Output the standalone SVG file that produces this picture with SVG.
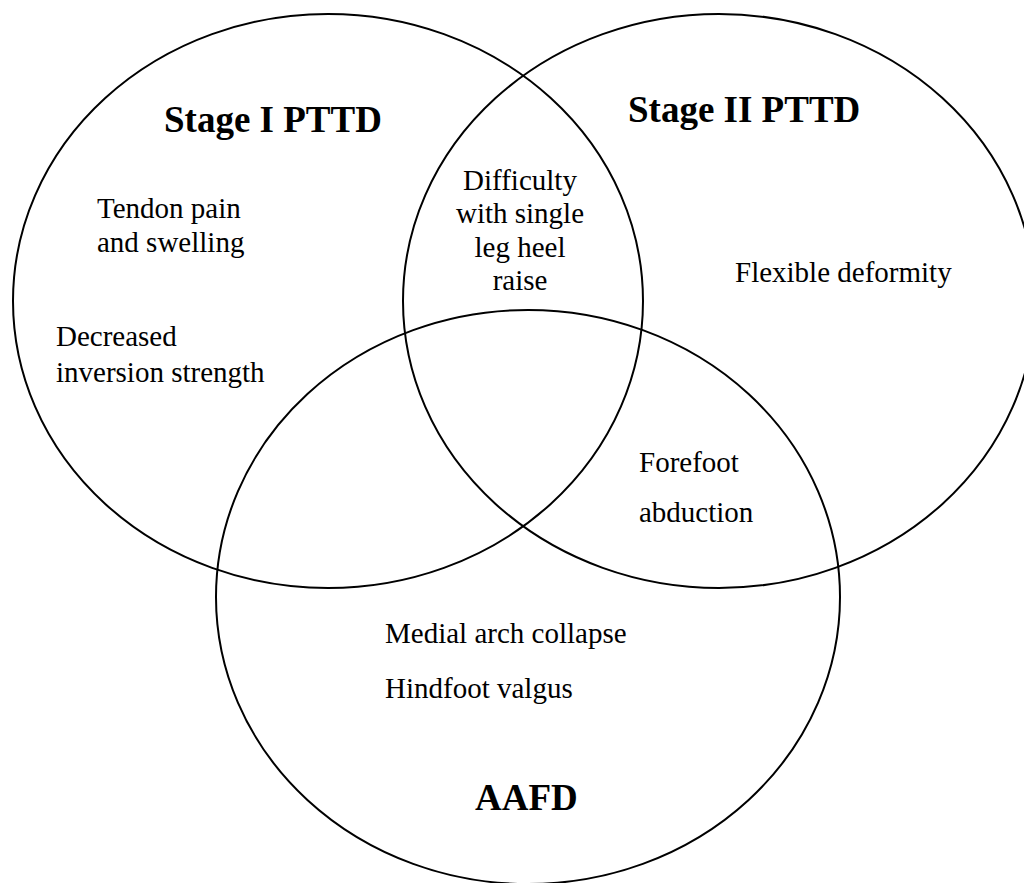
<svg xmlns="http://www.w3.org/2000/svg" width="1024" height="883" viewBox="0 0 1024 883">
  <style>
    .set { fill: none; stroke: #000; stroke-width: 2; }
    .title { font-family: "Liberation Serif", "Times New Roman", serif; font-weight: bold; font-size: 37px; fill: #000; }
    .item { font-family: "Liberation Serif", "Times New Roman", serif; font-size: 29px; fill: #000; }
  </style>
  <rect width="1024" height="883" fill="#fff"/>

  <!-- Set outlines -->
  <g id="stage1">
    <ellipse class="set" cx="328" cy="301" rx="315" ry="287"/>
    <text class="title" x="164" y="132">Stage I PTTD</text>
    <text class="item" x="97" y="218">Tendon pain</text>
    <text class="item" x="97" y="252">and swelling</text>
    <text class="item" x="56" y="346">Decreased</text>
    <text class="item" x="56" y="382">inversion strength</text>
  </g>

  <g id="stage2">
    <ellipse class="set" cx="719" cy="301" rx="316" ry="287"/>
    <text class="title" x="628" y="122">Stage II PTTD</text>
    <text class="item" x="735" y="282">Flexible deformity</text>
  </g>

  <g id="aafd">
    <ellipse class="set" cx="528" cy="597" rx="312" ry="287" stroke-width="2.4"/>
    <text class="item" x="385" y="643">Medial arch collapse</text>
    <text class="item" x="385" y="698">Hindfoot valgus</text>
    <text class="title" x="475" y="810">AAFD</text>
  </g>

  <!-- Overlap labels -->
  <g id="stage1-stage2" class="item" text-anchor="middle">
    <text x="520" y="190">Difficulty</text>
    <text x="520" y="223">with single</text>
    <text x="520" y="257">leg heel</text>
    <text x="520" y="290">raise</text>
  </g>

  <g id="stage2-aafd">
    <text class="item" x="639" y="472">Forefoot</text>
    <text class="item" x="639" y="522">abduction</text>
  </g>

  <g id="connectors"/>
</svg>
